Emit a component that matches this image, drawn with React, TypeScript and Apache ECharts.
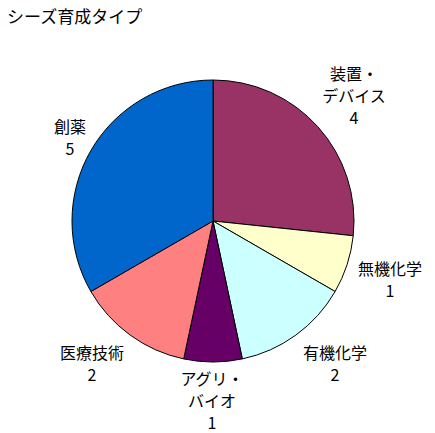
import React, { useEffect, useRef } from "react";
import * as echarts from "echarts";

const categories = ["装置・\nデバイス", "無機化学", "有機化学", "アグリ・\nバイオ", "医療技術", "創薬"];
const values = [4, 1, 2, 1, 2, 5];
const colors = ["#993366", "#FFFFCC", "#CCFFFF", "#660066", "#FF8080", "#0066CC"];
const labelPos = [
  [354, 95],
  [390, 279],
  [335, 363],
  [212, 400],
  [92, 363],
  [70, 137],
];

export default function App() {
  const ref = useRef<HTMLDivElement>(null);
  useEffect(() => {
    const chart = echarts.init(ref.current!, undefined, { renderer: "svg" });
    const font = '"Noto Sans CJK JP", "Noto Sans", sans-serif';
    chart.setOption({
      animation: false,
      backgroundColor: "#ffffff",
      title: {
        text: "シーズ育成タイプ",
        left: 2,
        top: 2,
        textStyle: { fontSize: 17, fontWeight: "normal", color: "#000", fontFamily: font },
      },
      series: [
        {
          type: "pie",
          center: [213, 221],
          radius: [0, 141],
          startAngle: 90,
          clockwise: true,
          data: categories.map((c, i) => ({
            name: c,
            value: values[i],
            itemStyle: { color: colors[i] },
          })),
          itemStyle: { borderColor: "#000", borderWidth: 1 },
          label: {
            show: true,
            position: "outside",
            formatter: "{b}\n{c}",
            fontSize: 16,
            lineHeight: 22,
            color: "#000",
            fontFamily: font,
            align: "center",
            overflow: "none",
            width: 200,
          },
          labelLine: { show: false },
          labelLayout: (p: any) => ({
            x: labelPos[p.dataIndex][0],
            y: labelPos[p.dataIndex][1],
            align: "center",
            verticalAlign: "middle",
            hideOverlap: false,
          }),
          emphasis: { disabled: true },
        },
      ],
    });
    return () => chart.dispose();
  }, []);
  return (
    <div
      ref={ref}
      style={{ position: "fixed", left: 0, top: 0, width: 435, height: 433 }}
    />
  );
}
